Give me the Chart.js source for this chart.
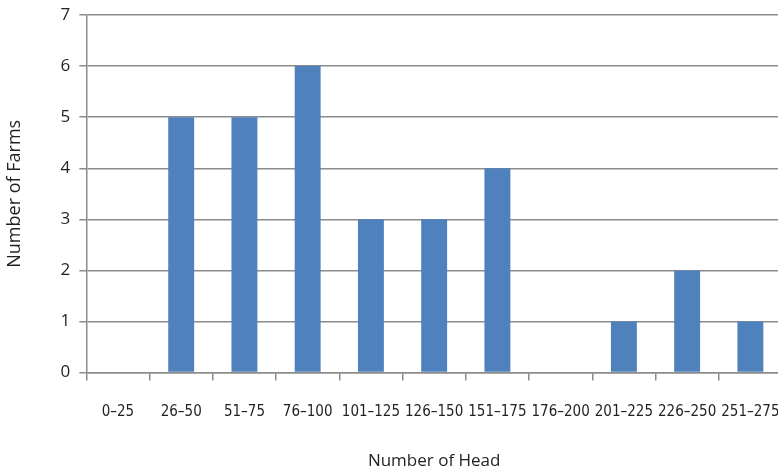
<!DOCTYPE html>
<html lang="en">
<head>
    <meta charset="UTF-8">
    <title>Number of Farms by Number of Head</title>
    <style>
        html, body {
            margin: 0;
            padding: 0;
            overflow: hidden;
            background: #fff;
        }
        #farm-chart {
            display: block;
        }
    </style>
    <script src="https://cdn.jsdelivr.net/npm/chart.js"></script>
</head>
<body>
    <canvas id="farm-chart" width="790" height="471"></canvas>
    <script>
        // Data
        const headRanges = ['0–25', '26–50', '51–75', '76–100', '101–125', '126–150',
                            '151–175', '176–200', '201–225', '226–250', '251–275'];
        const farmCounts = [0, 5, 5, 6, 3, 3, 4, 0, 1, 2, 1];
        const yTicks = [0, 1, 2, 3, 4, 5, 6, 7];

        const axisGray = '#8c8c8c';
        const textColor = '#231f20';

        // the plot runs to the right edge and the top tick sits at the top,
        // so drop the padding chart.js keeps for the outer tick labels
        function noEdgePadding(axis) {
            axis.paddingLeft = 0;
            axis.paddingRight = 0;
            axis.paddingTop = 0;
            axis.paddingBottom = 0;
        }

        const ctx = document.getElementById('farm-chart').getContext('2d');
        new Chart(ctx, {
            type: 'bar',
            data: {
                labels: headRanges,
                datasets: [{
                    label: 'Farms',
                    data: farmCounts,
                    backgroundColor: '#4f81bd',
                    borderWidth: 0,
                    barPercentage: 0.41,
                    categoryPercentage: 1
                }]
            },
            options: {
                responsive: false,
                animation: false,
                layout: {
                    padding: { top: 15, right: 8, left: 4, bottom: 0 }
                },
                plugins: {
                    legend: { display: false },
                    tooltip: { enabled: false }
                },
                scales: {
                    x: {
                        afterFit: noEdgePadding,
                        grid: {
                            drawOnChartArea: false,
                            drawTicks: true,
                            tickLength: 8,
                            color: axisGray,
                            lineWidth: 1.5
                        },
                        border: { color: axisGray, width: 1.5 },
                        ticks: {
                            color: textColor,
                            padding: 23,
                            maxRotation: 0,
                            autoSkip: false,
                            font: { family: "'DejaVu Sans Condensed', sans-serif", size: 15 }
                        },
                        title: {
                            display: true,
                            text: 'Number of Head',
                            color: textColor,
                            padding: { top: 6, bottom: 0 },
                            font: { family: "'Open Sans', sans-serif", size: 17 }
                        }
                    },
                    y: {
                        min: 0,
                        max: 7,
                        afterFit: noEdgePadding,
                        afterBuildTicks: axis => {
                            axis.ticks = yTicks.map(v => ({ value: v }));
                        },
                        grid: {
                            color: axisGray,
                            lineWidth: 1.5,
                            tickLength: 7
                        },
                        border: { color: axisGray, width: 1.5 },
                        ticks: {
                            color: textColor,
                            padding: 9,
                            font: { family: "'Open Sans', sans-serif", size: 17 }
                        },
                        title: {
                            display: true,
                            text: 'Number of Farms',
                            color: textColor,
                            padding: { top: 0, bottom: 26 },
                            font: { family: "'Open Sans', sans-serif", size: 18 }
                        }
                    }
                }
            }
        });
    </script>
</body>
</html>
